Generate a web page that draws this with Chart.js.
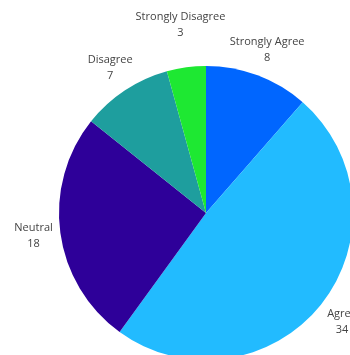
<!DOCTYPE html>
<html>
<head>
<meta charset="utf-8">
<script src="https://cdn.jsdelivr.net/npm/chart.js@4.4.0/dist/chart.umd.min.js"></script>
<style>
  html, body { margin: 0; padding: 0; overflow: hidden; background: #fff; }
  #wrap { position: absolute; left: 0; top: 0; width: 360px; height: 370px; }
</style>
</head>
<body>
<div id="wrap"><canvas id="c"></canvas></div>
<script>
const categories = ['Strongly Agree', 'Agree', 'Neutral', 'Disagree', 'Strongly Disagree'];
const responses = [8, 34, 18, 7, 3];
const sliceColors = ['#0066ff', '#22bbff', '#2e0099', '#1e9e9e', '#1ee832'];

// Category name and count written outside each slice
const outsideLabels = {
  id: 'outsideLabels',
  afterDraw(chart, args, opts) {
    const ctx = chart.ctx;
    const meta = chart.getDatasetMeta(0);
    ctx.save();
    ctx.font = opts.font;
    ctx.fillStyle = opts.color;
    ctx.textAlign = 'center';
    ctx.textBaseline = 'middle';
    meta.data.forEach((arc, i) => {
      const p = arc.getProps(['x', 'y', 'startAngle', 'endAngle', 'outerRadius'], true);
      const mid = (p.startAngle + p.endAngle) / 2;
      const r = p.outerRadius + (opts.extra[i] || opts.offset);
      const x = p.x + Math.cos(mid) * r;
      const y = p.y + Math.sin(mid) * r;
      ctx.fillText(chart.data.labels[i], x, y - 8);
      ctx.fillText(String(chart.data.datasets[0].data[i]), x, y + 8);
    });
    ctx.restore();
  }
};

new Chart(document.getElementById('c'), {
  type: 'pie',
  data: {
    labels: categories,
    datasets: [{
      data: responses,
      backgroundColor: sliceColors,
      borderWidth: 0
    }]
  },
  options: {
    responsive: true,
    maintainAspectRatio: false,
    animation: false,
    layout: { padding: { left: 59, top: 66, right: 7, bottom: 10 } },
    plugins: {
      legend: { display: false },
      tooltip: { enabled: false },
      outsideLabels: {
        font: '11px "Open Sans", sans-serif',
        color: '#444',
        offset: 27,
        extra: [27, 27, 27, 27, 43]
      }
    }
  },
  plugins: [outsideLabels]
});
</script>
</body>
</html>
